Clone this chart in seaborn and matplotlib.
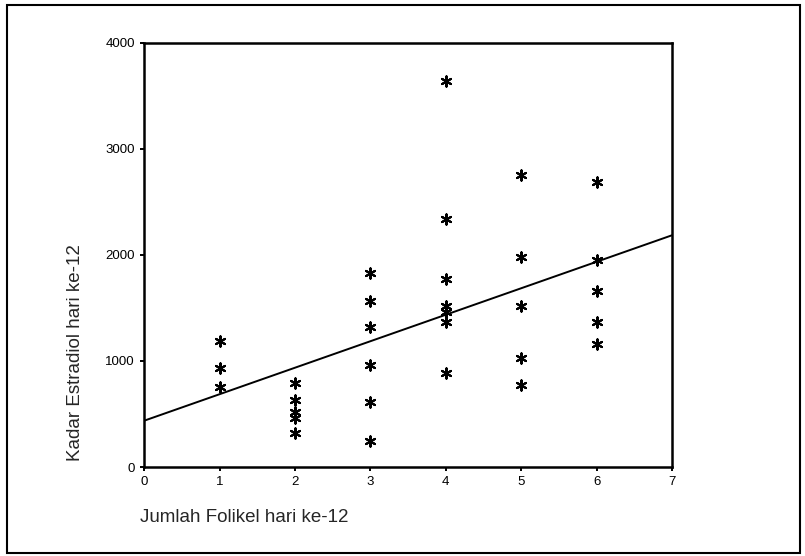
import matplotlib
matplotlib.use("Agg")
import matplotlib.pyplot as plt
import numpy as np
import pandas as pd
import seaborn as sns

# jumlah folikel (x) dan kadar estradiol (y)
folikel_1 = [1191, 931, 758]
folikel_2 = [790, 630, 515, 459, 320]
folikel_3 = [1827, 1566, 1318, 962, 616, 248]
folikel_4 = [3642, 2343, 1774, 1520, 1460, 1371, 890]
folikel_5 = [2755, 1978, 1522, 1025, 774]
folikel_6 = [2692, 1953, 1664, 1371, 1160]

groups = [folikel_1, folikel_2, folikel_3, folikel_4, folikel_5, folikel_6]
x_vals = []
y_vals = []
for i, g in enumerate(groups):
    x_vals += [i + 1] * len(g)
    y_vals += g

df = pd.DataFrame({"folikel": x_vals, "estradiol": y_vals})

x_ticks = list(range(0, 8))
y_ticks = [0, 1000, 2000, 3000, 4000]

sns.set_style("ticks")
plt.rcParams['font.family'] = ['Liberation Sans', 'DejaVu Sans']

fig = plt.figure(figsize=(8.05, 5.56), dpi=100)
ax = fig.add_axes([0.179, 0.160, 0.656, 0.763])

ax.set_xlim(0, 7)
ax.set_ylim(0, 4000)

# garis regresi sampai tepi sumbu
sns.regplot(data=df, x="folikel", y="estradiol", ax=ax, scatter=False, ci=None,
            truncate=False, color="black", line_kws={"linewidth": 1.4})
sns.scatterplot(data=df, x="folikel", y="estradiol", ax=ax, marker=(6, 2, 0),
                s=55, color="black", linewidth=1.5, edgecolor="black")

ax.set_xlim(0, 7)
ax.set_ylim(0, 4000)
ax.set_xticks(x_ticks)
ax.set_yticks(y_ticks)
ax.tick_params(axis="both", labelsize=9.5, length=3, width=1.4, direction="out", colors="black")

for sp in ax.spines.values():
    sp.set_visible(True)
    sp.set_linewidth(1.8)
    sp.set_color("black")

ax.set_xlabel("")
ax.set_ylabel("Kadar Estradiol hari ke-12", fontsize=13.5, loc="bottom")
ax.yaxis.set_label_coords(-0.113, 0.015)
fig.text(0.174, 0.062, "Jumlah Folikel hari ke-12", fontsize=13.5)

# bingkai luar
frame = plt.Rectangle((0.009, 0.006), 0.985, 0.985, transform=fig.transFigure,
                      fill=False, edgecolor="black", linewidth=1.5)
fig.patches.append(frame)

fig.savefig("out.png", dpi=100)
